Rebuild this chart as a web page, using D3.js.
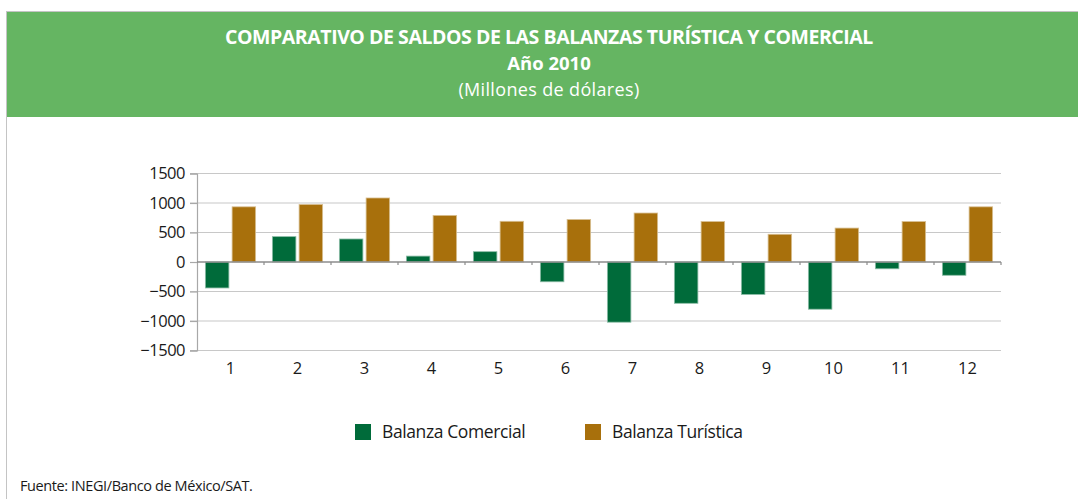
<!DOCTYPE html>
<html><head><meta charset="utf-8">
<script src="https://cdn.jsdelivr.net/npm/d3@7"></script>
<style>html,body{margin:0;padding:0;background:#fff;}svg{display:block;}</style>
</head><body>
<svg id="chart" width="1078" height="499"></svg>
<script>
const months = ["1","2","3","4","5","6","7","8","9","10","11","12"];
const comercial = [-440, 430, 390, 100, 175, -335, -1020, -700, -550, -800, -115, -225];
const turistica = [935, 975, 1085, 790, 690, 720, 830, 685, 470, 575, 685, 935];
const yTicks = [1500, 1000, 500, 0, -500, -1000, -1500];
const seriesNames = ["Balanza Comercial", "Balanza Turística"];
const colors = ["#006b3a", "#a8700c"];
const titleLines = ["COMPARATIVO DE SALDOS DE LAS BALANZAS TURÍSTICA Y COMERCIAL", "Año 2010", "(Millones de dólares)"];
const source = "Fuente: INEGI/Banco de México/SAT.";

const svg = d3.select("#chart");
const font = "'Open Sans', sans-serif";

// frame and header
svg.append("rect").attr("x", 7).attr("y", 12).attr("width", 1071).attr("height", 105).attr("fill", "#65b562");
svg.append("line").attr("x1", 7).attr("x2", 1078).attr("y1", 11.5).attr("y2", 11.5).attr("stroke", "#c4c4c4");
svg.append("line").attr("x1", 6.5).attr("x2", 6.5).attr("y1", 11).attr("y2", 499).attr("stroke", "#c4c4c4");

const tg = svg.append("g").attr("font-family", font).attr("fill", "#fff").attr("text-anchor", "middle");
tg.append("text").attr("x", 549).attr("y", 44).attr("font-size", 19.5).attr("font-weight", 700).attr("letter-spacing", -0.45).text(titleLines[0]);
tg.append("text").attr("x", 549).attr("y", 70).attr("font-size", 18.5).attr("font-weight", 700).attr("letter-spacing", 0).text(titleLines[1]);
tg.append("text").attr("x", 549).attr("y", 95.5).attr("font-size", 18).attr("font-weight", 400).attr("letter-spacing", 0.35).text(titleLines[2]);

// scales
const x0 = d3.scaleBand().domain(months).range([197, 1001]).paddingInner(0.25).paddingOuter(0.125);
const x1 = d3.scaleBand().domain(seriesNames).range([0, x0.bandwidth()]).paddingInner(0.12);
const y = d3.scaleLinear().domain([-1500, 1500]).range([350.5, 173.5]);

// gridlines
svg.append("g").selectAll("line").data(yTicks.filter(d => d !== 0)).join("line")
  .attr("x1", 190).attr("x2", 1001).attr("y1", d => y(d)).attr("y2", d => y(d))
  .attr("stroke", "#c8c8c8").attr("stroke-width", 1.2);

// y axis
const yAxis = d3.axisLeft(y).tickValues(yTicks).tickSize(7).tickPadding(5).tickFormat(d3.format("d"));
const ya = svg.append("g").attr("transform", "translate(197,0)").call(yAxis);
ya.select(".domain").attr("stroke", "#a8a8a8").attr("stroke-width", 1.2);
ya.selectAll(".tick line").attr("stroke", "#a8a8a8").attr("stroke-width", 1.2);
ya.selectAll(".tick text").attr("font-family", font).attr("font-size", 16.5).attr("fill", "#1a1a1a").attr("letter-spacing", -0.5);

// bars
const data = months.map((m, i) => ({m, vals: [comercial[i], turistica[i]]}));
const groups = svg.append("g").selectAll("g").data(data).join("g")
  .attr("transform", d => `translate(${x0(d.m)},0)`);
groups.selectAll("rect").data(d => d.vals.map((v, j) => ({v, s: seriesNames[j], c: colors[j]}))).join("rect")
  .attr("x", d => x1(d.s)).attr("width", x1.bandwidth())
  .attr("y", d => y(Math.max(0, d.v))).attr("height", d => Math.abs(y(d.v) - y(0)))
  .attr("fill", d => d.c).attr("stroke", d => d3.interpolateRgb(d.c, "#ffffff")(0.55)).attr("stroke-width", 0.8);

// x axis (zero line)
const xa = svg.append("g").attr("transform", `translate(0,${y(0)})`);
xa.append("line").attr("x1", 197).attr("x2", 1001).attr("y1", 0).attr("y2", 0).attr("stroke", "#8c8c8c").attr("stroke-width", 1.5);
xa.selectAll("line.tk").data(months.slice(1).concat(["end"])).join("line").attr("class", "tk")
  .attr("x1", (d, i) => 197 + (i + 1) * x0.step()).attr("x2", (d, i) => 197 + (i + 1) * x0.step())
  .attr("y1", 0).attr("y2", 3).attr("stroke", "#8c8c8c").attr("stroke-width", 1.2);

// category labels
const xAxis = d3.axisBottom(x0).tickSize(0).tickPadding(0);
const xb = svg.append("g").attr("transform", "translate(0,362)").call(xAxis);
xb.select(".domain").remove();
xb.selectAll(".tick text").attr("font-family", font).attr("font-size", 16.5).attr("fill", "#1a1a1a").attr("dy", "0.71em");

// legend
const lg = svg.append("g").attr("font-family", font).attr("font-size", 17.5).attr("fill", "#1a1a1a");
const legX = [355, 585];
seriesNames.forEach((n, i) => {
  lg.append("rect").attr("x", legX[i]).attr("y", 424).attr("width", 16).attr("height", 16).attr("fill", colors[i]);
  lg.append("text").attr("x", legX[i] + 27).attr("y", 438).attr("letter-spacing", -0.4).text(n);
});

// source
svg.append("text").attr("x", 20).attr("y", 491).attr("font-family", font).attr("font-size", 14.5).attr("fill", "#1a1a1a").attr("letter-spacing", -0.4).text(source);
</script>
</body></html>
